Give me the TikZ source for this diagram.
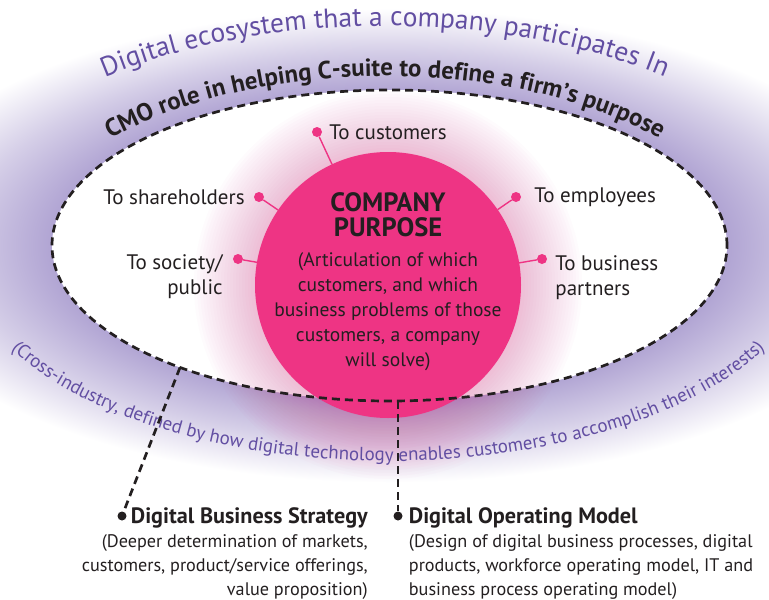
\documentclass[tikz,border=0pt]{standalone}
\usepackage{fontspec}
\setmainfont{PT Sans}
\usetikzlibrary{positioning, calc, decorations.text}

\definecolor{ecopink}{RGB}{238,52,132}
\definecolor{ecoglow}{RGB}{178,166,212}
\definecolor{ecotext}{RGB}{98,78,162}
\definecolor{ecodark}{RGB}{35,31,32}

\pgfdeclareradialshading{ecoshade}{\pgfpointorigin}{color(0bp)=(ecoglow); color(16.4bp)=(ecoglow); color(20.5bp)=(ecoglow!55!white); color(25bp)=(white); color(50bp)=(white)}

\begin{document}
\begin{tikzpicture}[x=1pt, y=1pt,
	lbl/.style={font=\fontsize{21}{25}\selectfont, text=ecodark, inner sep=1pt},
	head/.style={font=\fontsize{22.2}{25}\selectfont\bfseries, text=ecodark, inner sep=1pt},
	desc/.style={font=\fontsize{18.2}{23.8}\selectfont, text=ecodark, inner sep=1pt},
	pinkdot/.style={circle, fill=ecopink, inner sep=0pt, minimum size=10pt},
	blackdot/.style={circle, fill=ecodark, inner sep=0pt, minimum size=9pt},
	pinkline/.style={ecopink, line width=1.4pt},
	dashline/.style={ecodark, line width=2.7pt, dash pattern=on 8pt off 5pt}]

	\useasboundingbox (0,0) rectangle (769,-600);
	\clip (0,0) rectangle (769,-600);

	\coordinate (eco) at (389.5,-245.5);
	\shade[shading=ecoshade] (eco) ellipse [x radius=520pt, y radius=237pt];
	\fill[white] (eco) ellipse [x radius=337.5pt, y radius=155.5pt];

	\foreach \r in {134,137,...,194}
		\fill[ecopink, fill opacity=0.015] (388,-285) circle (\r pt);

	\node[circle, fill=ecopink, minimum size=266pt, inner sep=0pt, outer sep=0pt] (purpose) at (388,-285) {};

	\draw[dashline] (eco) ellipse [x radius=337.5pt, y radius=155.5pt];

	\coordinate (ecotop) at (385,-250);
	\path[decorate, decoration={text along path, text align=center, text={|\fontsize{27.5}{30}\selectfont\color{ecotext}|Digital ecosystem that a company participates In}}] ([shift={(145:440pt and 224pt)}]ecotop) arc [start angle=145, end angle=35, x radius=440pt, y radius=224pt];

	\coordinate (cmotop) at (385,-290);
	\path[decorate, decoration={text along path, text align=center, text={|\fontsize{24.8}{26}\selectfont\bfseries\color{ecodark}|CMO role in helping C-suite to define a firm’s purpose}}] ([shift={(150:388pt and 214pt)}]cmotop) arc [start angle=150, end angle=30, x radius=388pt, y radius=214pt];

	\coordinate (ecobot) at (388,-250);
	\path[decorate, decoration={text along path, text align=center, text={|\fontsize{18.9}{22}\selectfont\color{ecotext}|(Cross-industry, defined by how digital technology enables customers to accomplish their interests)}}] ([shift={(195:427pt and 211pt)}]ecobot) arc [start angle=195, end angle=345, x radius=427pt, y radius=211pt];

	\node[text=ecodark, align=center, font=\fontsize{19.5}{25}\selectfont] (purposetext) at (388,-281.5) {{\fontsize{26.5}{25}\selectfont\bfseries COMPANY}\\{\fontsize{26.5}{25}\selectfont\bfseries PURPOSE}\\[5pt](Articulation of which\\customers, and which\\business problems of those\\customers, a company\\will solve)};

	\node[pinkdot] (custdot) at (317,-132) {};
	\node[lbl, right=6pt of custdot] (cust) {To customers};
	\draw[pinkline] (custdot) -- (purpose);

	\node[pinkdot] (sharedot) at (259,-197) {};
	\node[lbl, left=8pt of sharedot] (share) {To shareholders};
	\draw[pinkline] (sharedot) -- (purpose);

	\node[pinkdot] (socdot) at (238,-259) {};
	\node[lbl, align=right, anchor=north east] (soc) at ([xshift=-9pt, yshift=6pt]socdot.west) {To society/\\public};
	\draw[pinkline] (socdot) -- (purpose);

	\node[pinkdot] (empdot) at (516,-197) {};
	\node[lbl, right=12pt of empdot] (emp) {To employees};
	\draw[pinkline] (empdot) -- (purpose);

	\node[pinkdot] (partdot) at (542,-259) {};
	\node[lbl, align=left, anchor=north west] (part) at ([xshift=7pt, yshift=5pt]partdot.east) {To business\\partners};
	\draw[pinkline] (partdot) -- (purpose);

	\coordinate (dbsjoin) at (180,-367.5);
	\node[blackdot] (dbsdot) at (122,-516) {};
	\node[head, right=3pt of dbsdot, yshift=-2pt] (dbs) {Digital Business Strategy};
	\node[desc, align=right, anchor=north east] (dbsdesc) at ([yshift=-4pt]dbs.south east) {(Deeper determination of markets,\\customers, product/service offerings,\\value proposition)};
	\draw[dashline] (dbsjoin) -- (dbsdot);

	\coordinate (domjoin) at (398,-401);
	\node[blackdot] (domdot) at (398,-516) {};
	\node[head, right=5pt of domdot, yshift=-2pt] (dom) {Digital Operating Model};
	\node[desc, align=left, anchor=north west] (domdesc) at ([yshift=-4pt]dom.south west) {(Design of digital business processes, digital\\products, workforce operating model, IT and\\business process operating model)};
	\draw[dashline] (domjoin) -- (domdot);
\end{tikzpicture}
\end{document}
